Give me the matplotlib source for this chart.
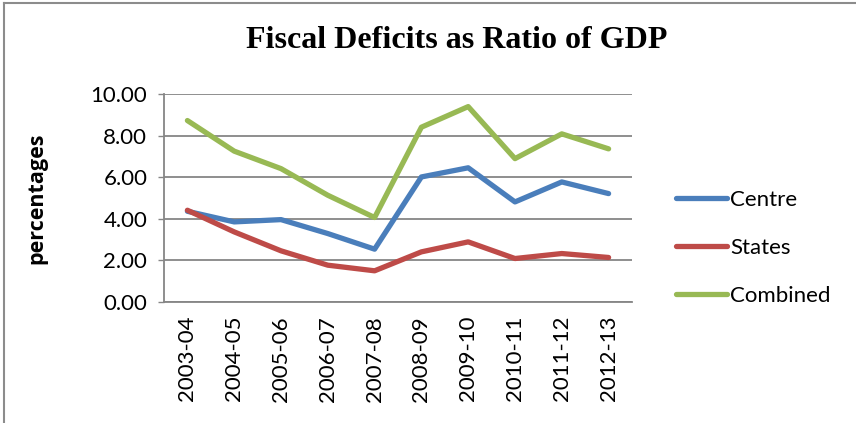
import matplotlib.pyplot as plt
from matplotlib.lines import Line2D

years = ["2003-04", "2004-05", "2005-06", "2006-07", "2007-08",
         "2008-09", "2009-10", "2010-11", "2011-12", "2012-13"]
centre = [4.36, 3.85, 3.96, 3.29, 2.54, 6.01, 6.45, 4.81, 5.77, 5.21]
states = [4.41, 3.37, 2.46, 1.77, 1.50, 2.41, 2.89, 2.09, 2.33, 2.14]
combined = [8.72, 7.25, 6.41, 5.13, 4.06, 8.40, 9.39, 6.89, 8.08, 7.36]

series = [("Centre", centre, "#4A7EBB"),
          ("States", states, "#BE4B48"),
          ("Combined", combined, "#98B954")]

fig = plt.figure(figsize=(8.56, 4.23), dpi=100)
ax = fig.add_axes([0.1916, 0.286, 0.5467, 0.492])

x = list(range(len(years)))
for name, vals, col in series:
    ax.plot(x, vals, color=col, lw=3.8, label=name, solid_capstyle="round",
            solid_joinstyle="round", zorder=3)

ax.set_xlim(-0.5, len(years) - 0.5)
ax.set_ylim(0, 10)
ax.set_yticks([0, 2, 4, 6, 8, 10])
ax.set_yticklabels([f"{v:.2f}" for v in [0, 2, 4, 6, 8, 10]],
                   fontfamily="Lato", fontsize=16)
ax.set_xticks(x)
ax.set_xticklabels(years, rotation=90, fontfamily="Lato", fontsize=16)
ax.tick_params(axis="x", length=0, pad=10)
ax.tick_params(axis="y", length=4, width=1, color="#868686", pad=8)

ax.grid(axis="y", color="#868686", lw=1.3)
ax.set_axisbelow(True)
for s in ["top", "right"]:
    ax.spines[s].set_visible(False)
for s in ["left", "bottom"]:
    ax.spines[s].set_color("#868686")
    ax.spines[s].set_linewidth(1.3)

ax.set_ylabel("percentages", fontfamily="Open Sans", fontweight="bold", fontsize=15.5)
ax.yaxis.set_label_coords(-0.25, 0.5)

fig.text(0.534, 0.905, "Fiscal Deficits as Ratio of GDP", ha="center", va="center",
         fontfamily="Liberation Serif", fontweight="bold", fontsize=23)

leg = fig.legend(loc="center left", bbox_to_anchor=(0.766, 0.414), frameon=False,
                 prop={"family": "Lato", "size": 16}, handlelength=2.3,
                 handletextpad=0.15, labelspacing=1.27)

# partial frame along the top and left edge
fig.add_artist(Line2D([0.005, 0.005], [0, 0.993], color="#8c8c8c", lw=1.5))
fig.add_artist(Line2D([0.005, 1], [0.993, 0.993], color="#8c8c8c", lw=1.5))

fig.savefig("out.png", dpi=100)
